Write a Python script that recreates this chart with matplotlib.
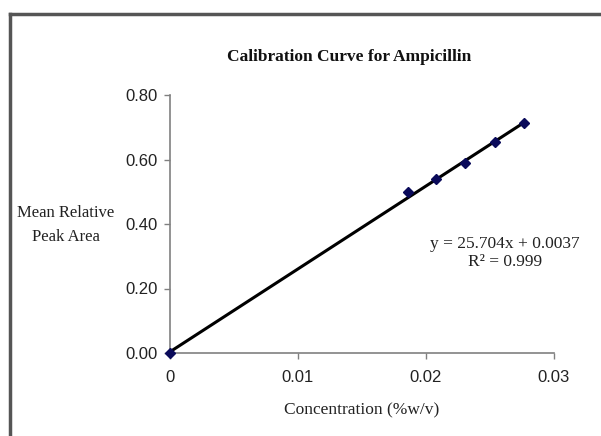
import numpy as np
import matplotlib
matplotlib.use("Agg")
import matplotlib.pyplot as plt
from matplotlib.lines import Line2D

# ---- data ----
conc = [0.0, 0.01859, 0.02078, 0.02305, 0.02539, 0.02766]
peak_area = [0.0, 0.499, 0.540, 0.589, 0.654, 0.713]
slope = 25.704
intercept = 0.0037
r2 = 0.999
x_ticks = [0, 0.01, 0.02, 0.03]
x_tick_labels = ["0", "0.01", "0.02", "0.03"]
y_ticks = [0.0, 0.2, 0.4, 0.6, 0.8]
y_tick_labels = ["0.00", "0.20", "0.40", "0.60", "0.80"]

SERIF = ["Liberation Serif", "DejaVu Serif"]
SANS = ["Liberation Sans", "DejaVu Sans"]

fig = plt.figure(figsize=(6.01, 4.36), dpi=100)
ax = fig.add_axes([170 / 601, 1 - 353 / 436, (554 - 170) / 601, (353 - 95) / 436])

# trendline, drawn over the data range
xs = np.array([0.0, max(conc)])
ax.plot(xs, slope * xs + intercept, color="black", lw=2.2, zorder=2)
ax.plot(conc, peak_area, linestyle="none", marker="D", ms=5.5,
        color="#0a0a5a", zorder=3, clip_on=False)

ax.set_xlim(0, 0.03)
ax.set_ylim(0, 0.8)
ax.set_xticks(x_ticks)
ax.set_xticklabels(x_tick_labels, fontfamily=SANS, fontsize=12, color="#222222")
ax.set_yticks(y_ticks)
ax.set_yticklabels(y_tick_labels, fontfamily=SANS, fontsize=12, color="#222222")
ax.tick_params(axis="y", direction="out", length=4, width=1, color="#808080", pad=5)
ax.tick_params(axis="x", direction="out", length=4, width=1, color="#808080", pad=8)
for side in ("top", "right"):
    ax.spines[side].set_visible(False)
for side in ("left", "bottom"):
    ax.spines[side].set_color("#808080")
    ax.spines[side].set_linewidth(1.2)

fig.text(349 / 601, 1 - 57 / 436, "Calibration Curve for Ampicillin",
         ha="center", va="center", fontfamily=SERIF, fontweight="bold",
         fontsize=12.5, color="#111111")
fig.text(362 / 601, 1 - 410 / 436, "Concentration (%w/v)", ha="center",
         va="center", fontfamily=SERIF, fontsize=12.5, color="#222222")
fig.text(66 / 601, 1 - 225 / 436, "Mean Relative\nPeak Area", ha="center",
         va="center", fontfamily=SERIF, fontsize=12, color="#222222",
         linespacing=1.6)
fig.text(505 / 601, 1 - 253 / 436,
         f"y = {slope}x + {intercept}\nR\u00b2 = {r2}", ha="center",
         va="center", fontfamily=SERIF, fontsize=12.5, color="#222222",
         linespacing=1.2)

# chart-area frame (top and left edges visible)
fig.add_artist(Line2D([10 / 601, 1.0], [1 - 14 / 436, 1 - 14 / 436],
                      transform=fig.transFigure, color="#555555", lw=2.5))
fig.add_artist(Line2D([10 / 601, 10 / 601], [0.0, 1 - 14 / 436],
                      transform=fig.transFigure, color="#555555", lw=2.5))

fig.savefig("out.png", dpi=100, facecolor="white")
